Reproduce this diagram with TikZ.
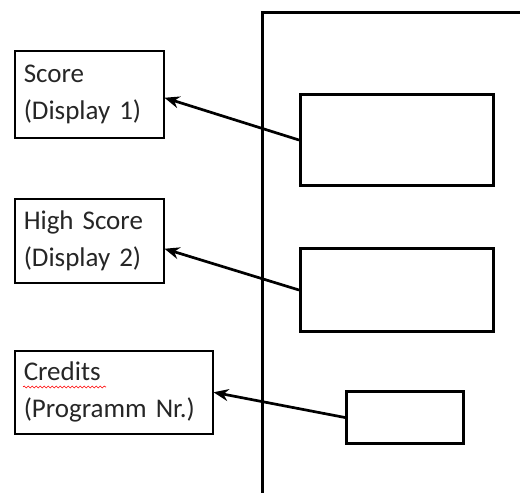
\documentclass[tikz,border=0pt]{standalone}
\usepackage{fontspec}
\setmainfont{Carlito}
\usetikzlibrary{positioning,arrows.meta,decorations.pathmorphing}
\tikzset{>={Stealth[length=15pt,width=12pt]}}
\tikzset{
    labelbox/.style={draw, line width=1.5pt, anchor=north west, align=left,
        inner xsep=9pt, inner ysep=0pt, text=black!85,
        font=\fontsize{27}{37}\selectfont},
    panelbox/.style={draw, line width=3pt, anchor=north west, inner sep=0pt},
    pointer/.style={->, line width=2.7pt},
}

\begin{document}
\begin{tikzpicture}[x=1pt,y=-1pt]
    \useasboundingbox (0,0) rectangle (520,493);
    % panel outline
    \draw[line width=3pt] (262,493) -- (262,12) -- (520,12);
    % displays on the panel
    \node[panelbox, minimum width=193pt, minimum height=91pt] (disp1) at (299,93) {};
    \node[panelbox, minimum width=193pt, minimum height=83pt] (disp2) at (299,247) {};
    \node[panelbox, minimum width=117pt, minimum height=52pt] (disp3) at (345,390) {};
    % labels
    \node[labelbox, text width=131pt, minimum height=87pt] (score) at (14,50) {Score\\(Display 1)};
    \node[labelbox, text width=131pt, minimum height=84pt] (hiscore) at (14,198) {High Score\\(Display 2)};
    \node[labelbox, text width=180pt, minimum height=83pt] (credits) at (14,350) {Credits\\(Programm Nr.)};
    \draw[red, line width=0.6pt, decorate, decoration={snake, amplitude=1pt, segment length=4pt}]
        ([xshift=9pt,yshift=-37pt]credits.north west) -- ++(83,0);
    % arrows
    \draw[pointer] (disp1.west) -- ([yshift=-3.5pt]score.east);
    \draw[pointer] (disp2.west) -- ([yshift=-8pt]hiscore.east);
    \draw[pointer] (disp3.west) -- (credits.east);
\end{tikzpicture}
\end{document}
